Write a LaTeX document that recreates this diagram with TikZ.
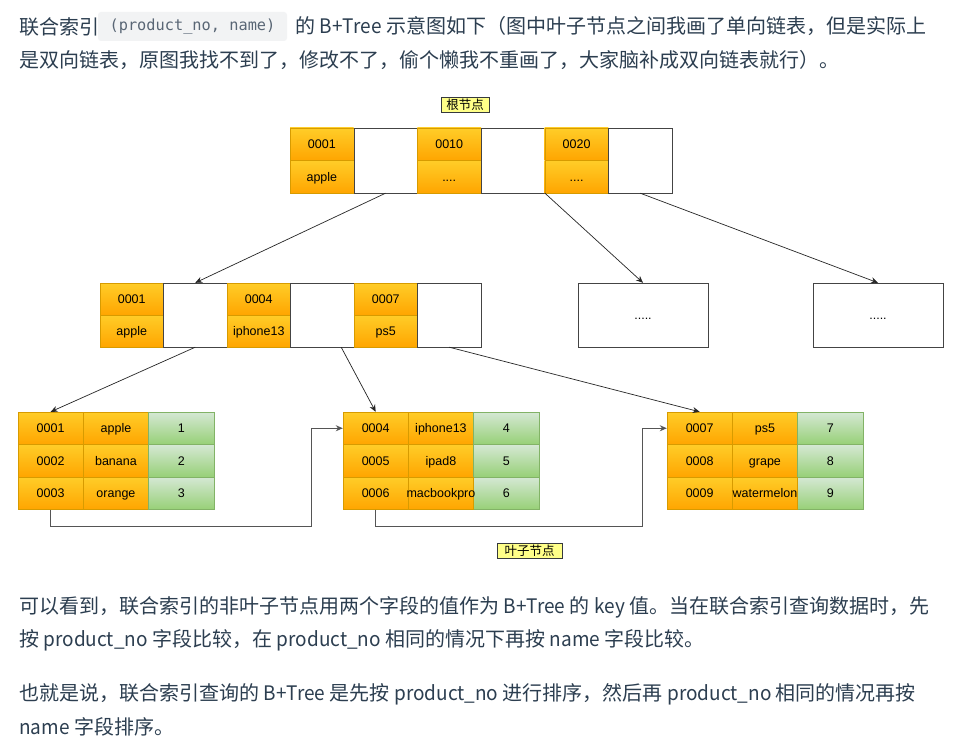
\documentclass[tikz,border=0pt]{standalone}
\usepackage{fontspec}
\setmainfont{Liberation Sans}
\setmonofont{DejaVu Sans Mono}
\newfontfamily\cjk{Noto Sans CJK SC}
\newfontfamily\cjklat{Noto Sans CJK SC}[FakeStretch=0.95]
\newcommand\en[1]{{\cjklat #1}}
\usetikzlibrary{arrows.meta,positioning}
\definecolor{bodytext}{HTML}{2C3E50}
\definecolor{codebg}{HTML}{F2F3F4}
\definecolor{codetext}{HTML}{596675}
\definecolor{keytop}{HTML}{FFCD28}
\definecolor{keybot}{HTML}{FFA500}
\definecolor{keyline}{HTML}{D79B00}
\definecolor{valtop}{HTML}{D5E8D4}
\definecolor{valbot}{HTML}{97D077}
\definecolor{valline}{HTML}{82B366}
\definecolor{tagfill}{HTML}{FFFF88}
\definecolor{tagline}{HTML}{36393D}
\definecolor{boxline}{HTML}{444444}
\definecolor{linkline}{HTML}{555555}
\begin{document}
\begin{tikzpicture}[x=1pt,y=-1pt]
\tikzstyle{every node}+=[inner sep=0pt]
\tikzstyle{para}=[anchor=west, text=bodytext, font=\cjk\fontsize{20}{20}\selectfont]
\tikzstyle{codebox}=[fill=codebg, rounded corners=3pt, minimum width=189pt, minimum height=29pt, text=codetext, font=\ttfamily\fontsize{15.3}{15.3}\selectfont]
\tikzstyle{cell}=[text height=9pt, text depth=0.4pt, font=\fontsize{12.5}{12.5}\selectfont]
\tikzstyle{key}=[cell, draw=keyline, top color=keytop, bottom color=keybot, minimum width=63.7pt, minimum height=32.5pt]
\tikzstyle{val}=[cell, draw=valline, top color=valtop, bottom color=valbot, minimum width=65.3pt, minimum height=32.5pt]
\tikzstyle{ptr}=[cell, draw=boxline, fill=white, minimum width=63.7pt, minimum height=65pt]
\tikzstyle{tag}=[draw=tagline, fill=tagfill, minimum height=15pt, font=\cjk\fontsize{12.5}{12.5}\selectfont]
\tikzstyle{edge}=[draw=black!85, line width=0.7pt, -{Stealth[length=7pt,width=6pt]}]
\tikzstyle{link}=[draw=linkline, line width=1pt, -{Stealth[length=7pt,width=6pt]}]
\useasboundingbox [fill=white] (0,0) rectangle (977,749);
% text above
\node [para] (p1a) at (19,27) {联合索引};
\node [codebox] (code) at (192.5,26.5) {(product\_no, name)};
\node [para, right=8pt of code] (p1b) {的 \en{B+Tree} 示意图如下（图中叶子节点之间我画了单向链表，但是实际上};
\node [para] (p2) at (19,60) {是双向链表，原图我找不到了，修改不了，偷个懒我不重画了，大家脑补成双向链表就行）。};
% root
\node [tag, minimum width=48pt] (roottag) at (465,104.5) {根节点};
\node [key] (r-k1) at (321.85,144.25) {0001};
\node [key] (r-n1) at (321.85,176.75) {apple};
\node [ptr] (r-p1) at (385.55,160.5) {};
\node [key] (r-k2) at (449.2,144.25) {0010};
\node [key] (r-n2) at (449.2,176.75) {....};
\node [ptr] (r-p2) at (512.9,160.5) {};
\node [key] (r-k3) at (576.55,144.25) {0020};
\node [key] (r-n3) at (576.55,176.75) {....};
\node [ptr] (r-p3) at (640.25,160.5) {};
% second level
\node [key, minimum width=63.5pt, minimum height=32pt] (m-k1) at (131.75,299) {0001};
\node [key, minimum width=63.5pt, minimum height=32pt] (m-n1) at (131.75,331) {apple};
\node [ptr, minimum width=63.5pt, minimum height=64pt] (m-p1) at (195.25,315) {};
\node [key, minimum width=63.5pt, minimum height=32pt] (m-k2) at (258.75,299) {0004};
\node [key, minimum width=63.5pt, minimum height=32pt] (m-n2) at (258.75,331) {iphone13};
\node [ptr, minimum width=63.5pt, minimum height=64pt] (m-p2) at (322.25,315) {};
\node [key, minimum width=63.5pt, minimum height=32pt] (m-k3) at (385.75,299) {0007};
\node [key, minimum width=63.5pt, minimum height=32pt] (m-n3) at (385.75,331) {ps5};
\node [ptr, minimum width=63.5pt, minimum height=64pt] (m-p3) at (449.25,315) {};
\node [ptr, minimum width=130pt, minimum height=64pt] (more1) at (643,315) {.....};
\node [ptr, minimum width=130pt, minimum height=64pt] (more2) at (878,315) {.....};
% leaves
\node [key, minimum width=65.3pt] (a11) at (50.65,428.25) {0001};
\node [key, minimum width=65.3pt] (a12) at (115.95,428.25) {apple};
\node [val] (a13) at (181.25,428.25) {1};
\node [key, minimum width=65.3pt] (a21) at (50.65,460.75) {0002};
\node [key, minimum width=65.3pt] (a22) at (115.95,460.75) {banana};
\node [val] (a23) at (181.25,460.75) {2};
\node [key, minimum width=65.3pt] (a31) at (50.65,493.25) {0003};
\node [key, minimum width=65.3pt] (a32) at (115.95,493.25) {orange};
\node [val] (a33) at (181.25,493.25) {3};
\node [key, minimum width=65.3pt] (b11) at (375.65,428.25) {0004};
\node [key, minimum width=65.3pt] (b12) at (440.95,428.25) {iphone13};
\node [val] (b13) at (506.25,428.25) {4};
\node [key, minimum width=65.3pt] (b21) at (375.65,460.75) {0005};
\node [key, minimum width=65.3pt] (b22) at (440.95,460.75) {ipad8};
\node [val] (b23) at (506.25,460.75) {5};
\node [key, minimum width=65.3pt] (b31) at (375.65,493.25) {0006};
\node [val] (b33) at (506.25,493.25) {6};
\node [key, minimum width=65.3pt] (b32) at (440.95,493.25) {\makebox[0pt]{macbookpro}};
\node [key, minimum width=65.3pt] (c11) at (699.65,428.25) {0007};
\node [key, minimum width=65.3pt] (c12) at (764.95,428.25) {ps5};
\node [val] (c13) at (830.25,428.25) {7};
\node [key, minimum width=65.3pt] (c21) at (699.65,460.75) {0008};
\node [key, minimum width=65.3pt] (c22) at (764.95,460.75) {grape};
\node [val] (c23) at (830.25,460.75) {8};
\node [key, minimum width=65.3pt] (c31) at (699.65,493.25) {0009};
\node [val] (c33) at (830.25,493.25) {9};
\node [key, minimum width=65.3pt] (c32) at (764.95,493.25) {\makebox[0pt]{watermelon}};
\node [tag, minimum width=65pt] (leaftag) at (529.5,550.5) {叶子节点};
% tree edges
\draw [edge] (r-p1.south) -- (m-p1.north);
\draw [edge] (r-p2.south east) -- (more1.north);
\draw [edge] (r-p3.south) -- (more2.north);
\draw [edge] (m-p1.south) -- (a11.north);
\draw [edge] ([xshift=-13pt]m-p2.south east) -- (b11.north);
\draw [edge] (m-p3.south) -- (c11.north);
% leaf list
\draw [link] (a31.south) -- ++(0,16.5) -| ([xshift=-31pt]b11.west) -- (b11.west);
\draw [link] (b31.south) -- ++(0,16.5) -| ([xshift=-24pt]c11.west) -- (c11.west);
% text below
\node [para] (p3) at (19,607) {可以看到，联合索引的非叶子节点用两个字段的值作为 \en{B+Tree} 的 \en{key} 值。当在联合索引查询数据时，先};
\node [para] (p4) at (19,640) {按 \en{product\_no} 字段比较，在 \en{product\_no} 相同的情况下再按 \en{name} 字段比较。};
\node [para] (p5) at (19,694) {也就是说，联合索引查询的 \en{B+Tree} 是先按 \en{product\_no} 进行排序，然后再 \en{product\_no} 相同的情况再按};
\node [para] (p6) at (19,727) {\en{name} 字段排序。};
\end{tikzpicture}
\end{document}
